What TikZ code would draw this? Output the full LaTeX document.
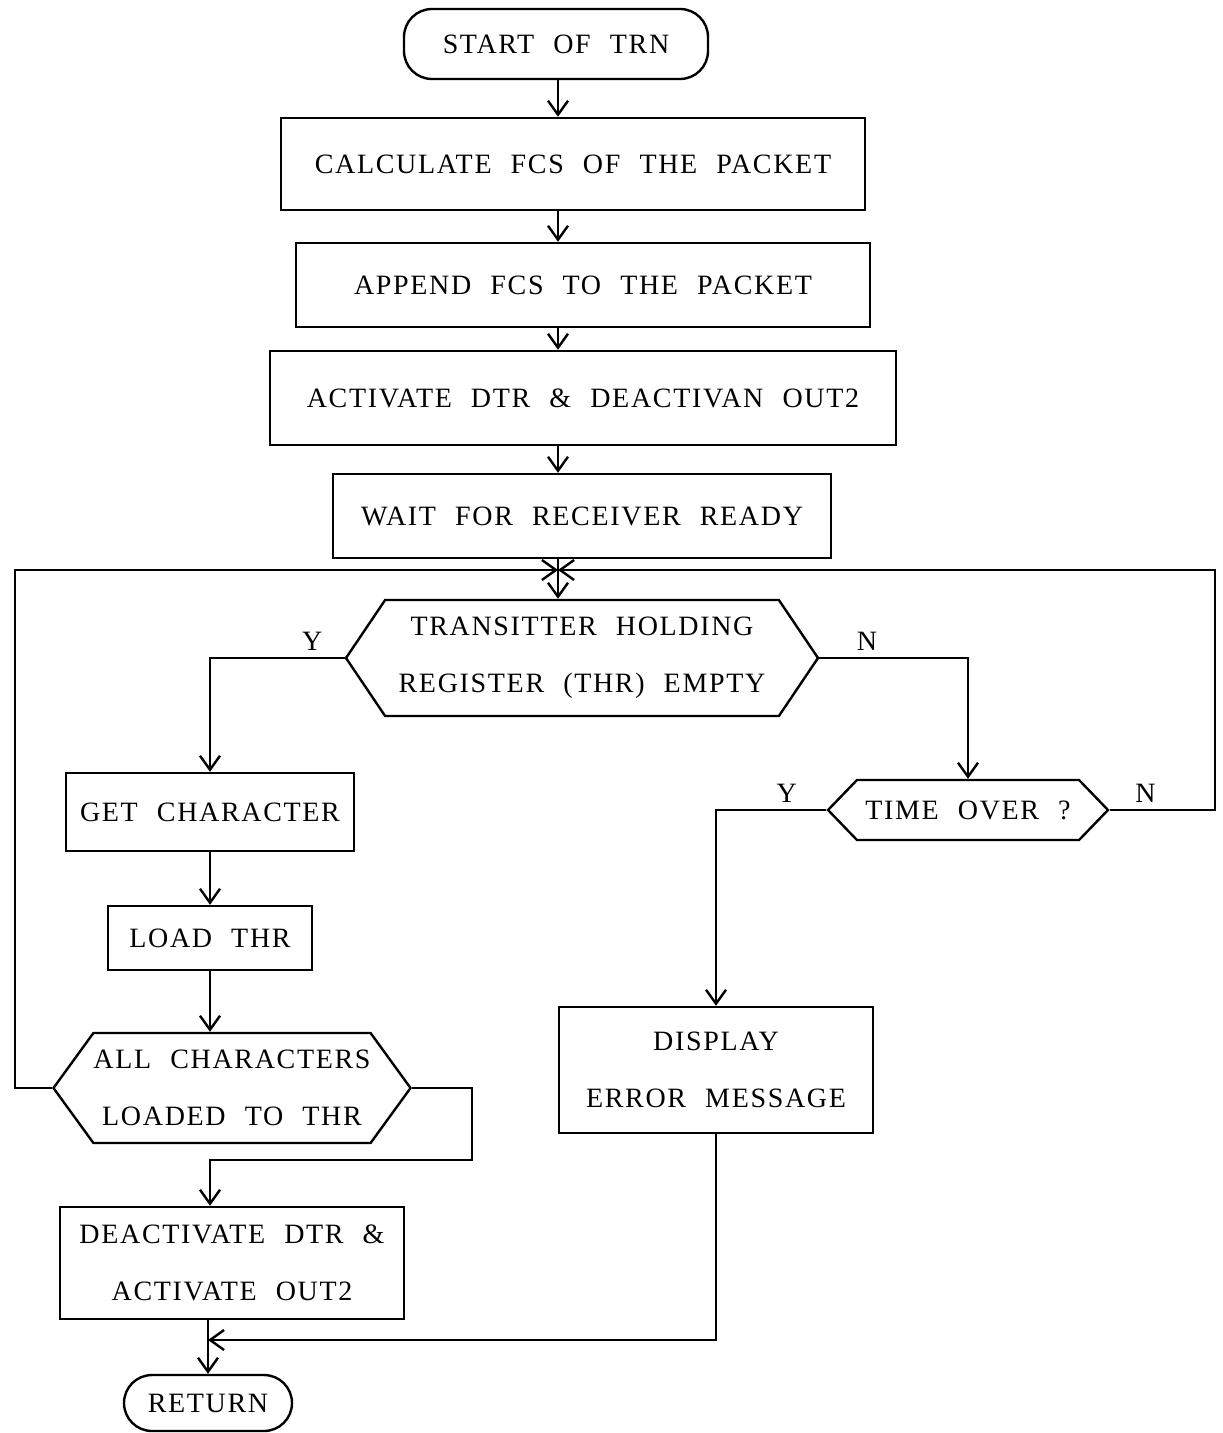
\documentclass[tikz,border=0pt]{standalone}
\usepackage{fontspec}
\setmainfont{Liberation Serif}[LetterSpace=6,WordSpace=2.2]
\usetikzlibrary{shapes.symbols,arrows.meta}

\begin{document}
\begin{tikzpicture}[x=0.5pt,y=-0.5pt,line width=1.2pt,>={Straight Barb[length=7pt,width=10pt]}]
	\tikzstyle{txt}=[font=\fontsize{14}{28.5}\selectfont,align=center,inner sep=2pt]
	\tikzstyle{box}=[txt,draw,rectangle]
	\tikzstyle{term}=[box,rounded corners=14pt]
	\tikzstyle{hex}=[txt,draw,signal,signal to=east and west,inner xsep=0pt]
	\tikzstyle{lbl}=[font=\fontsize{14}{16}\selectfont,inner sep=3pt]

\useasboundingbox (0,0) rectangle (1222,1433);

% main column
\node[term,minimum width=152pt,minimum height=35pt](start) at (556,44){START OF TRN};
\node[box,minimum width=292pt,minimum height=46pt](fcs) at (573,164){CALCULATE FCS OF THE PACKET};
\node[box,minimum width=287pt,minimum height=42pt](app) at (583,285){APPEND FCS TO THE PACKET};
\node[box,minimum width=313pt,minimum height=47pt](act) at (583,398){ACTIVATE DTR \& DEACTIVAN OUT2};
\node[box,minimum width=249pt,minimum height=42pt](wait) at (582,516){WAIT FOR RECEIVER READY};
\coordinate (join) at (558,570);
\node[hex,signal pointer angle=112,minimum width=236pt,minimum height=58pt](thr) at (582,658){TRANSITTER HOLDING\\REGISTER (THR) EMPTY};

% left branch
\node[box,minimum width=144pt,minimum height=39pt](get) at (210,812){GET CHARACTER};
\node[box,minimum width=102pt,minimum height=32pt](load) at (210,938){LOAD THR};
\node[hex,signal pointer angle=108,minimum width=172pt,minimum height=55pt](all) at (232,1088){ALL CHARACTERS\\LOADED TO THR};
\node[box,minimum width=172pt,minimum height=56pt](deact) at (232,1263){DEACTIVATE DTR \&\\ACTIVATE OUT2};
\node[term,minimum width=84pt,minimum height=28pt](ret) at (208,1403){RETURN};

% right branch
\node[hex,signal pointer angle=92,minimum width=140pt,minimum height=30pt](time) at (968,810){TIME OVER ?};
\node[box,minimum width=157pt,minimum height=63pt](disp) at (716,1070){DISPLAY\\ERROR MESSAGE};

\coordinate (lt) at (15,570);
\coordinate (rt) at (1215,570);
\coordinate (ar) at (472,1160);
\coordinate (rj) at (208,1340);

\draw[->] (start.south -| join) -- (join |- fcs.north);
\draw[->] (fcs.south -| join) -- (join |- app.north);
\draw[->] (app.south -| join) -- (join |- act.north);
\draw[->] (act.south -| join) -- (join |- wait.north);
\draw (wait.south -| join) -- (join);
\draw[->] (join) -- (join |- thr.north);

\draw[->] (thr.west) -| node[lbl,above,pos=0.12](y1){Y} (get.north);
\draw[->] (get) -- (load);
\draw[->] (load) -- (load |- all.north);
\draw[->] (all.west) -| (lt) -- (join);
\draw[->] (all.east) -| (ar) -| ([xshift=-11pt]deact.north);
\draw[->] (deact.south -| ret.north) -- (ret.north);

\draw[->] (thr.east) -| node[lbl,above,pos=0.16](n1){N} (time.north);
\draw[->] (time.west) -| node[lbl,above,pos=0.18](y2){Y} (disp.north);
\draw[->] (time.east) -| node[lbl,above,pos=0.17](n2){N} (rt) -- (join);
\draw[->] (disp.south) |- (rj);

\end{tikzpicture}
\end{document}
